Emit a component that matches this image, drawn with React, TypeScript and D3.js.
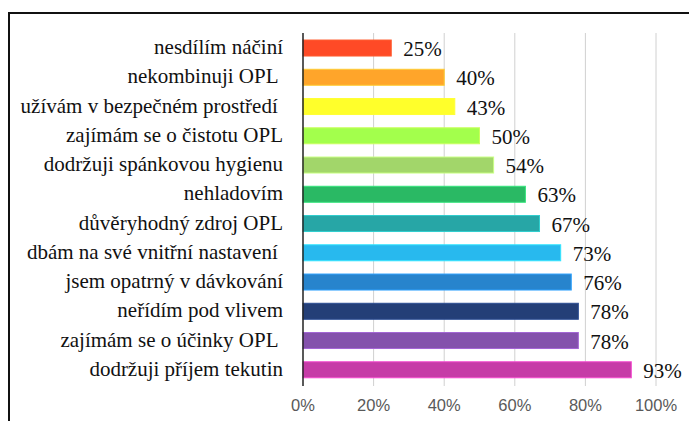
import React from "react";
import * as d3 from "d3";

const categories = [
  "nesdílím náčiní",
  "nekombinuji OPL ",
  "užívám v bezpečném prostředí ",
  "zajímám se o čistotu OPL",
  "dodržuji spánkovou hygienu",
  "nehladovím",
  "důvěryhodný zdroj OPL",
  "dbám na své vnitřní nastavení ",
  "jsem opatrný v dávkování",
  "neřídím pod vlivem",
  "zajímám se o účinky OPL ",
  "dodržuji příjem tekutin",
];
const values = [25, 40, 43, 50, 54, 63, 67, 73, 76, 78, 78, 93];
const colors = [
  "#FF4A26",
  "#FFA52A",
  "#FFFF2B",
  "#A3FF4C",
  "#A2D66A",
  "#2AB964",
  "#27A6A6",
  "#28B9EE",
  "#2784CD",
  "#243F77",
  "#8451AC",
  "#C63BA7",
];
const ticks = [0, 20, 40, 60, 80, 100];

const W = 689;
const H = 421;

export default function App() {
  const x = d3.scaleLinear().domain([0, 100]).range([303, 656]);
  const y = d3
    .scaleBand<string>()
    .domain(categories)
    .range([33.4, 384.4])
    .paddingInner(0.453)
    .paddingOuter(0.2265);

  const serif = "'Liberation Serif', 'Times New Roman', serif";
  const sans = "'Liberation Sans', Arial, sans-serif";

  return (
    <svg
      width={W}
      height={H}
      style={{ position: "absolute", left: 0, top: 0, background: "#fff" }}
    >
      <rect x={0} y={0} width={W} height={H} fill="#fff" />
      <rect
        x={9}
        y={13}
        width={W + 20}
        height={H + 20}
        fill="none"
        stroke="#111"
        strokeWidth={2}
      />
      {ticks.slice(1).map((t) => (
        <line
          key={t}
          x1={x(t)}
          x2={x(t)}
          y1={33}
          y2={386}
          stroke="#d0d0d0"
          strokeWidth={1}
        />
      ))}
      {categories.map((c, i) => (
        <g key={c}>
          <rect
            x={x(0)}
            y={y(c)}
            width={x(values[i]) - x(0)}
            height={y.bandwidth()}
            fill={colors[i]}
            stroke={d3.color(colors[i])!.brighter(0.6).formatHex()}
            strokeWidth={1}
          />
          <text
            x={283}
            y={(y(c) as number) + y.bandwidth() / 2 + 6}
            textAnchor="end"
            style={{ whiteSpace: "pre", fontFamily: serif, fontSize: "21px" }}
            fill="#111"
          >
            {c}
          </text>
          <text
            x={x(values[i]) + 12}
            y={(y(c) as number) + y.bandwidth() / 2 + 8}
            style={{ fontFamily: serif, fontSize: "21px" }}
            fill="#111"
          >
            {values[i]}%
          </text>
        </g>
      ))}
      <line
        x1={x(0)}
        x2={x(0)}
        y1={33}
        y2={386}
        stroke="#222"
        strokeWidth={1.5}
      />
      {ticks.map((t) => (
        <text
          key={t}
          x={x(t)}
          y={411}
          textAnchor="middle"
          style={{ fontFamily: sans, fontSize: "16.5px" }}
          fill="#595959"
        >
          {t}%
        </text>
      ))}
    </svg>
  );
}
